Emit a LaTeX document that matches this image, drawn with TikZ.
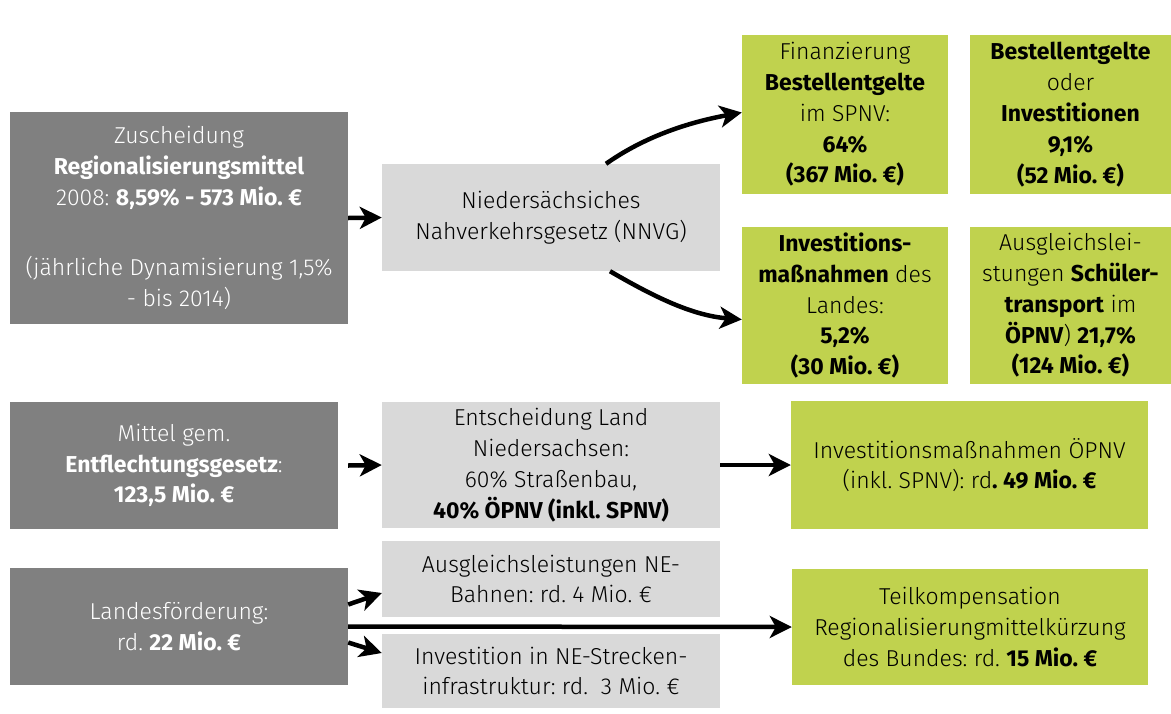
\documentclass[tikz,border=0pt]{standalone}
\usepackage{fontspec}
\IfFontExistsTF{Fira Sans Light}{\setmainfont{Fira Sans Light}[BoldFont={Fira Sans Bold}]}{\setmainfont{Fira Sans}}
\usetikzlibrary{arrows.meta}
\definecolor{darkbox}{RGB}{128,128,128}
\definecolor{lightbox}{RGB}{217,217,217}
\definecolor{greenbox}{RGB}{192,210,78}
\frenchspacing
\tikzset{
  base/.style={inner sep=0pt, align=center, font=\fontsize{23}{30.8}\selectfont\frenchspacing},
  dbox/.style={base, fill=darkbox, text=white},
  lbox/.style={base, fill=lightbox, text=black},
  gbox/.style={base, fill=greenbox, text=black},
  arr/.style={line width=4.5pt, -{Stealth[length=22pt,width=22pt,inset=6pt]}},
}
\begin{document}
\begin{tikzpicture}[x=1pt,y=-1pt]
\useasboundingbox (0,0) rectangle (1171,713);
% row 1
\node[dbox, minimum width=338pt, minimum height=212pt] (z) at (179,218)
  {Zuscheidung\\\textbf{Regionalisierungsmittel}\\2008: \textbf{8,59\% - 573 Mio. €}\\[39pt](jährliche Dynamisierung 1,5\%\\- bis 2014)};
\node[lbox, minimum width=338pt, minimum height=107pt] (nnvg) at (551,217.5)
  {Niedersächsiches\\Nahverkehrsgesetz (NNVG)};
\node[gbox, minimum width=206pt, minimum height=159pt] (g1) at (845,114.5)
  {Finanzierung\\\textbf{Bestellentgelte}\\im SPNV:\\\textbf{64\%}\\\textbf{(367 Mio. €)}};
\node[gbox, minimum width=201pt, minimum height=159pt] (g2) at (1070.5,114.5)
  {\textbf{Bestellentgelte}\\oder\\\textbf{Investitionen}\\\textbf{9,1\%}\\\textbf{(52 Mio. €)}};
\node[gbox, minimum width=206pt, minimum height=157pt] (g3) at (845,305.5)
  {\textbf{Investitions-}\\\textbf{maßnahmen} des\\Landes:\\\textbf{5,2\%}\\\textbf{(30 Mio. €)}};
\node[gbox, minimum width=201pt, minimum height=157pt] (g4) at (1070.5,305.5)
  {Ausgleichslei-\\stungen \textbf{Schüler-}\\\textbf{transport} im\\\textbf{ÖPNV}) \textbf{21,7\%}\\\textbf{(124 Mio. €)}};
% row 2
\node[dbox, minimum width=328pt, minimum height=127pt] (mittel) at (174,465.5)
  {Mittel gem.\\\textbf{Entflechtungsgesetz}:\\\textbf{123,5 Mio. €}};
\node[lbox, minimum width=338pt, minimum height=126pt] (entsch) at (551,465)
  {Entscheidung Land\\Niedersachsen:\\60\% Straßenbau,\\\textbf{40\% ÖPNV (inkl. SPNV)}};
\node[gbox, minimum width=357pt, minimum height=128pt] (inv) at (969.5,465)
  {Investitionsmaßnahmen ÖPNV\\(inkl. SPNV): rd\textbf{. 49 Mio. €}};
% row 3
\node[dbox, minimum width=338pt, minimum height=117pt] (landes) at (179,626.5)
  {Landesförderung:\\rd. \textbf{22 Mio. €}};
\node[lbox, minimum width=338pt, minimum height=76pt] (neb) at (551,579)
  {Ausgleichsleistungen NE-\\Bahnen: rd. 4 Mio. €};
\node[lbox, minimum width=338pt, minimum height=74pt] (nes) at (551,671)
  {Investition in NE-Strecken-\\infrastruktur: rd.\ \ 3 Mio. €};
\node[gbox, minimum width=356pt, minimum height=116pt] (teil) at (970,627)
  {Teilkompensation\\Regionalisierungmittelkürzung\\des Bundes: rd. \textbf{15 Mio. €}};
% connectors
\draw[arr] (z.east) -- (nnvg.west);
\draw[arr] ([xshift=55pt]nnvg.north) .. controls +(41,-29) and +(-49,9) .. ([yshift=2pt]g1.west);
\draw[arr] ([xshift=59pt]nnvg.south) .. controls +(43,25) and +(-50,-4) .. ([yshift=-14pt]g3.west);
\draw[arr] ([xshift=10pt]mittel.east) -- (entsch.west);
\draw[arr] (entsch.east) -- (inv.west);
\draw[arr] ([yshift=22pt]landes.east) -- ([yshift=-14pt]neb.west);
\draw[arr] ([yshift=-16pt]landes.east) -- ([yshift=18pt]nes.west);
\draw[arr] (landes.east) -- (teil.west);
\end{tikzpicture}
\end{document}
